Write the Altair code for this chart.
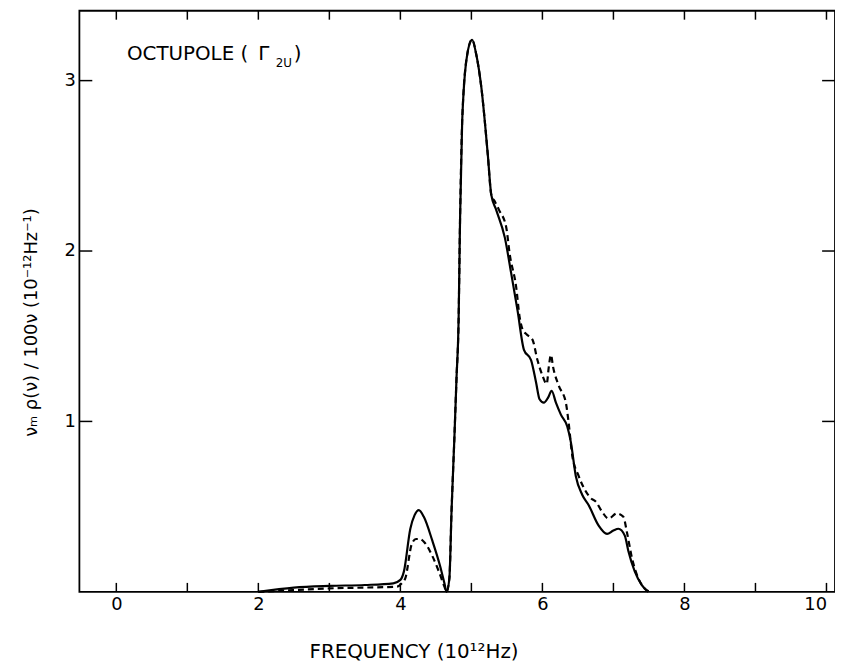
import altair as alt
import pandas as pd

# ---- data ----
solid_x = [2.0, 2.5, 3.0, 3.5, 3.9, 4.0, 4.05, 4.14, 4.2, 4.26, 4.33, 4.45, 4.56, 4.62, 4.65,
           4.69, 4.72, 4.76, 4.79, 4.82, 4.84, 4.87, 4.94, 5.01, 5.07, 5.14, 5.23, 5.28, 5.35,
           5.47, 5.56, 5.65, 5.74, 5.84, 5.91, 5.96, 6.02, 6.08, 6.13, 6.19, 6.26, 6.35, 6.40,
           6.47, 6.56, 6.65, 6.79, 6.91, 7.00, 7.07, 7.16, 7.21, 7.30, 7.40, 7.49]
solid_y = [0.0, 0.025, 0.035, 0.04, 0.05, 0.07, 0.12, 0.37, 0.45, 0.48, 0.44, 0.30, 0.15, 0.05, 0.0,
           0.08, 0.47, 0.9, 1.25, 1.6, 2.18, 2.76, 3.15, 3.24, 3.15, 2.96, 2.57, 2.33, 2.24,
           2.08, 1.87, 1.65, 1.42, 1.36, 1.23, 1.13, 1.11, 1.14, 1.18, 1.11, 1.04, 0.97, 0.88,
           0.68, 0.57, 0.51, 0.39, 0.34, 0.36, 0.37, 0.33, 0.24, 0.12, 0.04, 0.0]

dashed_x = [2.0, 2.5, 3.0, 3.5, 3.95, 4.02, 4.07, 4.16, 4.22, 4.27, 4.34, 4.45, 4.55, 4.62, 4.65,
            4.69, 4.72, 4.76, 4.79, 4.82, 4.84, 4.87, 4.94, 5.01, 5.07, 5.14, 5.23, 5.28, 5.33,
            5.39, 5.49, 5.54, 5.63, 5.68, 5.72, 5.78, 5.86, 5.93, 6.00, 6.06, 6.09, 6.12, 6.15,
            6.23, 6.33, 6.37, 6.42, 6.51, 6.61, 6.68, 6.75, 6.84, 6.93, 7.05, 7.14, 7.19, 7.26,
            7.35, 7.44, 7.51]
dashed_y = [0.0, 0.01, 0.02, 0.025, 0.03, 0.05, 0.08, 0.28, 0.31, 0.31, 0.29, 0.21, 0.11, 0.03, 0.0,
            0.08, 0.47, 0.9, 1.25, 1.6, 2.18, 2.76, 3.15, 3.24, 3.15, 2.96, 2.57, 2.33, 2.29,
            2.24, 2.14, 1.98, 1.79, 1.61, 1.54, 1.51, 1.48, 1.36, 1.27, 1.22, 1.32, 1.39, 1.32,
            1.21, 1.11, 0.99, 0.80, 0.68, 0.59, 0.55, 0.53, 0.47, 0.43, 0.46, 0.44, 0.35, 0.20,
            0.08, 0.02, 0.0]

x_tick_values = [0, 1, 2, 3, 4, 5, 6, 7, 8, 9, 10]
x_label_values = [0, 2, 4, 6, 8, 10]
y_tick_values = [1, 2, 3]

# annotation "OCTUPOLE (Γ2U)" pieces
ann_text = ["OCTUPOLE (", "Γ", "2U", ")"]
ann_x = [0.15, 2.0, 2.245, 2.50]
ann_y = [3.157, 3.157, 3.105, 3.157]
ann_size = [20, 20, 12, 20]

FONT = "DejaVu Sans"
W, H = 762, 586

x_scale = alt.Scale(domain=[-0.52, 10.12], nice=False, zero=False)
y_scale = alt.Scale(domain=[0, 3.41], nice=False, zero=False)

x_axis = alt.Axis(values=x_label_values, ticks=False, domain=False, grid=False,
                  labelFont=FONT, labelFontSize=18, labelColor="black", labelPadding=4,
                  labelAlign={"condition": {"test": "datum.value == 10", "value": "right"},
                              "value": "center"},
                  title="FREQUENCY (10¹²Hz)", titleFont=FONT, titleFontSize=20,
                  titleFontWeight="normal", titleColor="black",
                  titleX=337, titleY=66, titleBaseline="alphabetic", titleAnchor="middle")
y_axis = alt.Axis(values=y_tick_values, ticks=False, domain=False, grid=False,
                  labelFont=FONT, labelFontSize=18, labelColor="black", labelPadding=4,
                  title="νₘ ρ(ν) / 100ν  (10⁻¹²Hz⁻¹)", titleFont=FONT, titleFontSize=18,
                  titleFontWeight="normal", titleColor="black",
                  titleX=-48, titleY=314, titleBaseline="middle", titleAngle=270)

X = alt.X("x:Q", scale=x_scale, axis=x_axis, title="FREQUENCY (10¹²Hz)")
Y = alt.Y("y:Q", scale=y_scale, axis=y_axis, title="νₘ ρ(ν) / 100ν  (10⁻¹²Hz⁻¹)")

solid_df = pd.DataFrame({"x": solid_x, "y": solid_y})
dashed_df = pd.DataFrame({"x": dashed_x, "y": dashed_y})
xt_df = pd.DataFrame({"x": x_tick_values})
yt_df = pd.DataFrame({"y": y_tick_values})
ann_df = pd.DataFrame({"x": ann_x, "y": ann_y, "t": ann_text, "s": ann_size})

solid = alt.Chart(solid_df).mark_line(color="black", strokeWidth=2.2, interpolate="monotone").encode(
    x=X, y=Y)
dashed = alt.Chart(dashed_df).mark_line(color="black", strokeWidth=2.2, strokeDash=[6, 4],
                                         interpolate="monotone").encode(x=X, y=Y)

xt_bottom = alt.Chart(xt_df).mark_rule(color="black", strokeWidth=1.5).encode(
    x=X, y=alt.value(H), y2=alt.value(H - 9))
xt_top = alt.Chart(xt_df).mark_rule(color="black", strokeWidth=1.5).encode(
    x=X, y=alt.value(0), y2=alt.value(9))
yt_left = alt.Chart(yt_df).mark_rule(color="black", strokeWidth=1.5).encode(
    y=Y, x=alt.value(0), x2=alt.value(13))
yt_right = alt.Chart(yt_df).mark_rule(color="black", strokeWidth=1.5).encode(
    y=Y, x=alt.value(W - 13), x2=alt.value(W))

ann = alt.Chart(ann_df).mark_text(align="left", baseline="middle", font=FONT,
                                  color="black").encode(
    x=X, y=Y, text="t:N",
    size=alt.Size("s:Q", scale=None, legend=None))

chart = alt.layer(solid, dashed, xt_bottom, xt_top, yt_left, yt_right, ann).properties(
    width=W, height=H,
    autosize=alt.AutoSizeParams(type="none"),
    padding={"left": 72, "top": 0, "right": 0, "bottom": 69},
    background="white",
).configure_view(stroke="black", strokeWidth=1.8)

chart.save("out.html", embed_options={"renderer": "svg", "actions": False})
